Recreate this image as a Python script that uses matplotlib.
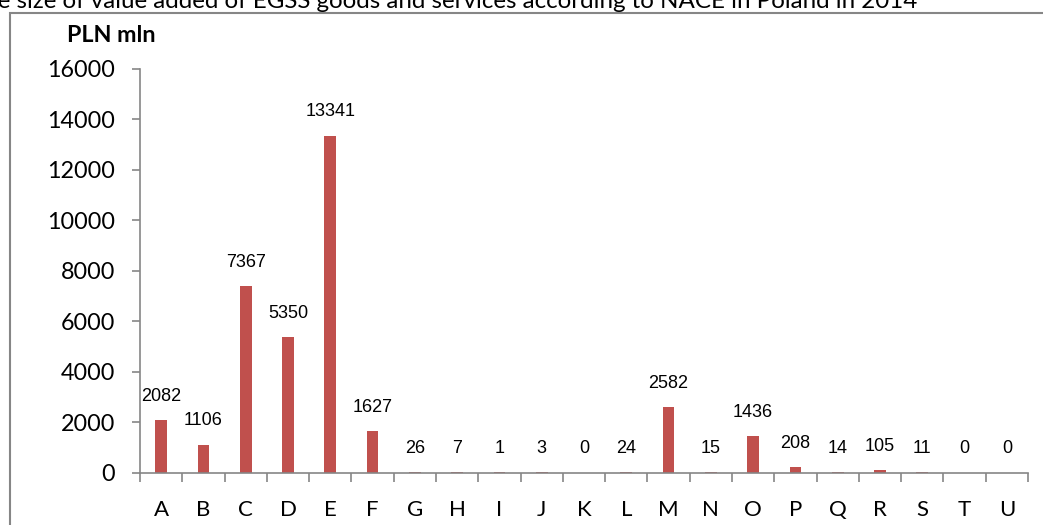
import matplotlib.pyplot as plt
from matplotlib.patches import Rectangle

sections = ['A', 'B', 'C', 'D', 'E', 'F', 'G', 'H', 'I', 'J', 'K',
            'L', 'M', 'N', 'O', 'P', 'Q', 'R', 'S', 'T', 'U']
value_added = [2082, 1106, 7367, 5350, 13341, 1627, 26, 7, 1, 3, 0,
               24, 2582, 15, 1436, 208, 14, 105, 11, 0, 0]
y_ticks = [0, 2000, 4000, 6000, 8000, 10000, 12000, 14000, 16000]

title = 'The size of value added of EGSS goods and services according to NACE in Poland in 2014'

plt.rcParams['font.family'] = ['Lato', 'DejaVu Sans']
grey = '#868686'

fig = plt.figure(figsize=(10.43, 5.25), dpi=100)

# outer chart frame, open at the right and bottom edges
fig.patches.append(Rectangle((10 / 1043, -0.1), 1.2, 1.1 - 13 / 525,
                             transform=fig.transFigure, fill=False,
                             edgecolor=grey, linewidth=1.5))
fig.text(917 / 1043, 1 - 8 / 525, title, ha='right', va='baseline',
         fontsize=17.4, color='black')

ax = fig.add_axes([140 / 1043, 0.1, (1028 - 140) / 1043, 0.8695 - 0.1])
x = list(range(len(sections)))
bars = ax.bar(x, value_added, width=0.28, color='#C0504D')

for xi, v in zip(x, value_added):
    ax.annotate(str(v), (xi, v), xytext=(0, 11), textcoords='offset points',
                ha='center', va='bottom', fontsize=13,
                family=['Liberation Sans', 'DejaVu Sans'])

ax.set_xlim(-0.5, len(sections) - 0.5)
ax.set_ylim(0, 16000)
ax.set_yticks(y_ticks)
ax.set_yticklabels([str(t) for t in y_ticks], fontsize=16.8)
ax.set_xticks(x)
ax.set_xticklabels(sections, fontsize=16)
ax.set_xticks([i - 0.5 for i in range(len(sections) + 1)], minor=True)

ax.tick_params(axis='x', which='major', length=0, pad=20)
ax.tick_params(axis='x', which='minor', length=6.5, width=1.2, color=grey, direction='out')
ax.tick_params(axis='y', length=6, width=1.2, color=grey, direction='out', pad=12)

for side in ['top', 'right']:
    ax.spines[side].set_visible(False)
for side in ['left', 'bottom']:
    ax.spines[side].set_color(grey)
    ax.spines[side].set_linewidth(1.2)

fig.text(67 / 1043, 1 - 35 / 525, 'PLN mln', fontweight='bold', fontsize=16.8,
         ha='left', va='center')

fig.savefig('out.png', dpi=100)
